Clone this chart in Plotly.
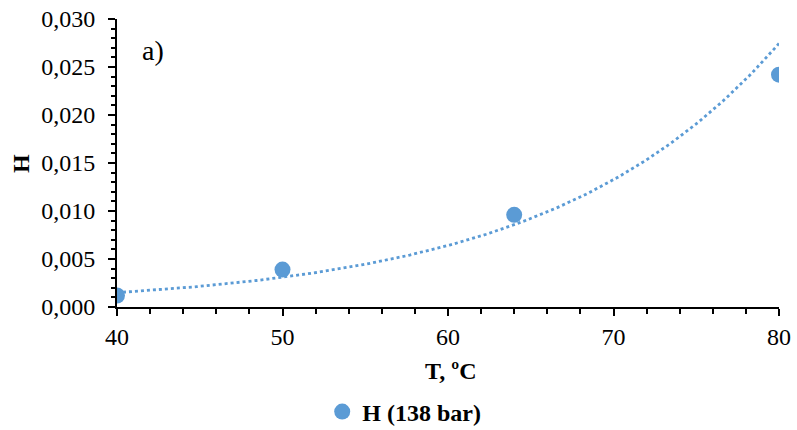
import numpy as np
import plotly.graph_objects as go

T = [40, 50, 64, 80]
H = [0.0012, 0.0039, 0.0096, 0.0242]
series_name = "H (138 bar)"
x_ticks = [40, 50, 60, 70, 80]
y_ticks = [0.000, 0.005, 0.010, 0.015, 0.020, 0.025, 0.030]

# Exponential trendline (least squares on ln H), as in the spreadsheet trendline
b, a = np.polyfit(T, np.log(H), 1)
xt = np.linspace(min(T), max(T), 200)
yt = np.exp(a + b * xt)

color = "#5B9BD5"
font = "Liberation Serif"

fig = go.Figure()
fig.add_trace(go.Scatter(x=xt, y=yt, mode="lines", line=dict(color=color, width=2.8, dash="dot"),
                         showlegend=False, hoverinfo="skip"))
fig.add_trace(go.Scatter(x=T, y=H, mode="markers", name="<b>" + series_name + "</b>",
                         marker=dict(color=color, size=16)))

fig.add_annotation(x=0.035, y=0.892, xref="paper", yref="paper", text="a)", showarrow=False,
                   font=dict(family=font, size=28, color="black"), xanchor="left", yanchor="middle")
# axis titles
fig.add_annotation(x=(450 - 117) / 662, y=(307 - 371) / 288, xref="paper", yref="paper",
                   text="<b>T, ºC</b>", showarrow=False, font=dict(family=font, size=24, color="black"),
                   xanchor="center", yanchor="middle")
fig.add_annotation(x=(21 - 117) / 662, y=0.5, xref="paper", yref="paper",
                   text="<b>H</b>", showarrow=False, textangle=-90,
                   font=dict(family=font, size=24, color="black"),
                   xanchor="center", yanchor="middle")

fig.update_layout(
    width=797, height=430,
    margin=dict(l=117, r=18, t=19, b=123, autoexpand=False),
    plot_bgcolor="white", paper_bgcolor="white",
    separators=", ",
    font=dict(family=font, size=24, color="black"),
    xaxis=dict(range=[40, 80], tickvals=x_ticks, showgrid=False, zeroline=False, automargin=False,
               showline=True, linecolor="black", linewidth=2,
               ticks="outside", ticklen=7, tickwidth=2, tickcolor="black",
               tickfont=dict(family=font, size=24),
               minor=dict(dtick=2, ticks="outside", ticklen=5, tickwidth=1.5, tickcolor="black")),
    yaxis=dict(range=[0, 0.030], tickvals=y_ticks, tickformat=".3f", showgrid=False, zeroline=False,
               automargin=False,
               showline=True, linecolor="black", linewidth=2,
               ticks="outside", ticklen=7, tickwidth=2, tickcolor="black",
               tickfont=dict(family=font, size=24), ticklabelstandoff=8,
               minor=dict(dtick=0.001, ticks="outside", ticklen=4, tickwidth=1.5, tickcolor="black")),
    legend=dict(orientation="h", x=0.31, xanchor="left", y=(307 - 412) / 288, yanchor="middle",
                font=dict(size=24, family=font)),
    showlegend=True,
)

fig.write_html("out.html", config={"displayModeBar": False},
               post_script="document.body.style.margin='0';")
